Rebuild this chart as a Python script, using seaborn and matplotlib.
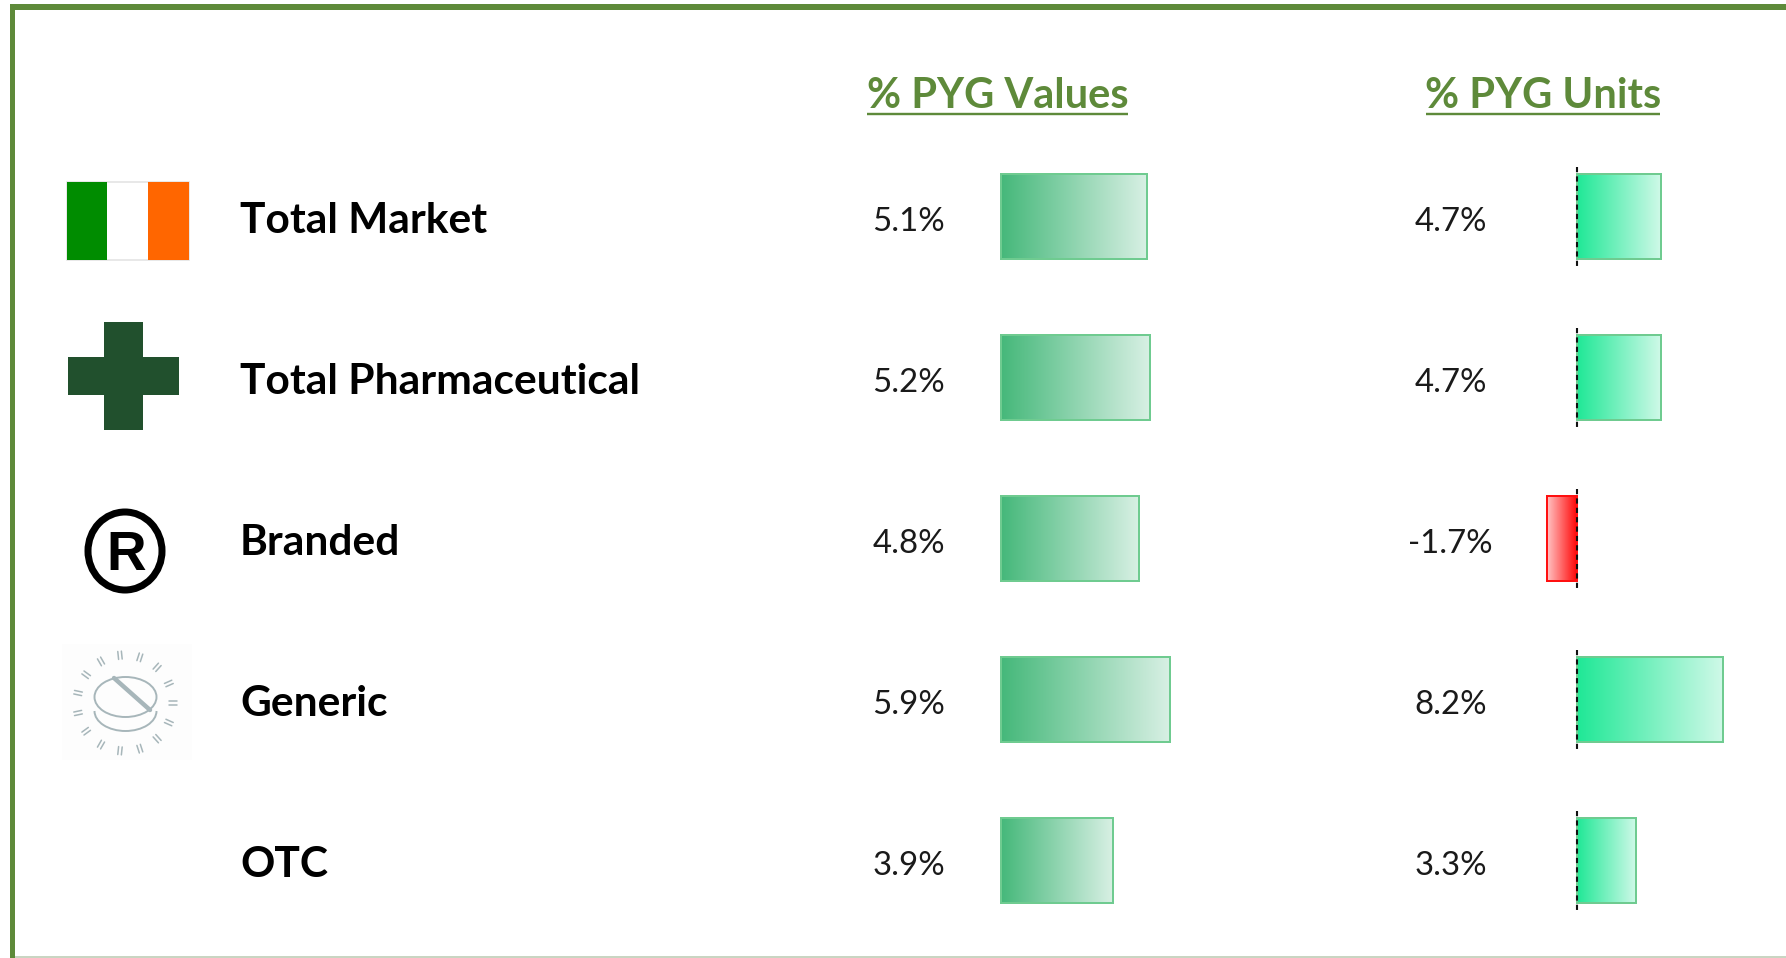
import numpy as np
import matplotlib
matplotlib.use("Agg")
import matplotlib.pyplot as plt
from matplotlib.colors import LinearSegmentedColormap
from matplotlib.patches import Rectangle, Ellipse, Arc
import pandas as pd
import seaborn as sns

categories = ["Total Market", "Total Pharmaceutical", "Branded", "Generic", "OTC"]
pyg_values = [5.1, 5.2, 4.8, 5.9, 3.9]
pyg_units = [4.7, 4.7, -1.7, 8.2, 3.3]
headers = ["% PYG Values", "% PYG Units"]

W, H = 1786, 958
ROW0, ROWSTEP = 216.5, 161.0
BAR_H = 85 / 161
sns.set_theme(style="white")
plt.rcParams["font.family"] = ["Lato", "DejaVu Sans"]
PX = 0.72
GREEN = "#5E8A3A"

fig = plt.figure(figsize=(W / 100, H / 100), dpi=100, facecolor="white")


def panel(col, zero_px, px_per_unit, cmap_pos, label_x):
    ax = fig.add_axes([0, 0, 1, 1], facecolor="none")
    df = pd.DataFrame({"cat": categories, "val": col})
    sns.barplot(data=df, x="val", y="cat", order=categories, orient="h", ax=ax,
                width=BAR_H, color="#6CCB8E", saturation=1)
    xlim = (-zero_px / px_per_unit, (W - zero_px) / px_per_unit)
    ylim = ((H - ROW0) / ROWSTEP, -ROW0 / ROWSTEP)
    cmap_neg = LinearSegmentedColormap.from_list("n", ["#FFC4C4", "#FF0000"])
    for bar, v in zip(ax.patches, col):
        x0, x1 = bar.get_x(), bar.get_x() + bar.get_width()
        y0, y1 = bar.get_y(), bar.get_y() + bar.get_height()
        ax.imshow(np.linspace(0, 1, 256)[None, :], extent=(min(x0, x1), max(x0, x1), y1, y0),
                  cmap=cmap_pos if v >= 0 else cmap_neg, aspect="auto", zorder=2,
                  interpolation="bilinear")
        bar.set_facecolor("none")
        bar.set_edgecolor("#6FCB90" if v >= 0 else "#FF1010")
        bar.set_linewidth(2.0 * PX)
        bar.set_zorder(3)
    ax.set_xlim(xlim)
    ax.set_ylim(ylim)
    ax.axis("off")
    tr = ax.get_yaxis_transform()
    for i, v in enumerate(col):
        ax.annotate(f"{v:.1f}%", xy=(label_x / W, i), xycoords=tr, xytext=(0, -14.5 * PX),
                    textcoords="offset points", ha="center", va="baseline",
                    fontsize=33 * PX, color="#1A1A1A")
    return ax


cmap_val = LinearSegmentedColormap.from_list("v", ["#45B87A", "#D8F0E4"])
cmap_unit = LinearSegmentedColormap.from_list("u", ["#1FE896", "#CFF9E8"])
ax1 = panel(pyg_values, 1001.5, 28.6, cmap_val, 908.5)
ax2 = panel(pyg_units, 1577.5, 17.8, cmap_unit, 1450.5)

# dashed zero axis of the units panel, one piece per row
for i in range(len(categories)):
    ax2.vlines(0, i - 0.31, i + 0.31, colors="#111111", linewidth=1.5,
               linestyles=(0, (2.5, 2)), zorder=5)

# overlay in pixel coordinates for frame, icons and text
ov = fig.add_axes([0, 0, 1, 1], facecolor="none")
ov.set_xlim(0, W)
ov.set_ylim(H, 0)
ov.axis("off")

# frame
ov.add_patch(Rectangle((10, 4), W, 6, color=GREEN, lw=0))
ov.add_patch(Rectangle((10, 4), 5, H, color=GREEN, lw=0))
ov.add_patch(Rectangle((15, 956), W, 2, color="#C9D5C2", lw=0))

# row labels
for i, c in enumerate(categories):
    ov.text(240, ROW0 + ROWSTEP * i + 16.5, c, fontsize=42.5 * PX, fontweight="bold",
            color="black", ha="left", va="baseline")

# headers
for t, x0, x1 in zip(headers, (867, 1426), (1128, 1660)):
    ov.text((x0 + x1) / 2, 108, t, fontsize=41.6 * PX, fontweight="bold", color=GREEN,
            ha="center", va="baseline")
    ov.plot([x0, x1], [114, 114], color=GREEN, lw=2.4 * PX, solid_capstyle="butt")

# flag icon
ov.add_patch(Rectangle((67, 182), 122, 78, facecolor="#FFFFFF", edgecolor="#E4E4E4", lw=1.2))
ov.add_patch(Rectangle((67, 182), 40, 78, color="#008C00", lw=0))
ov.add_patch(Rectangle((148, 182), 41, 78, color="#FF6600", lw=0))

# cross icon
ov.add_patch(Rectangle((104, 322), 39, 108, color="#21502D", lw=0))
ov.add_patch(Rectangle((68, 357), 111, 38, color="#21502D", lw=0))

# registered icon
ov.add_patch(Ellipse((125, 551), 74, 78, fill=False, edgecolor="black", lw=7 * PX))
ov.text(126.5, 570, "R", fontsize=55 * PX, fontweight="bold", family="Liberation Sans",
        color="black", ha="center", va="baseline")

# pill icon
PILL = "#A7B6BA"
ov.add_patch(Rectangle((62, 644), 130, 116, color="#FDFDFD", lw=0))
ov.add_patch(Ellipse((125.5, 697), 62, 40, fill=False, edgecolor=PILL, lw=1.4))
ov.add_patch(Arc((125.5, 711), 62, 40, theta1=0, theta2=180, edgecolor=PILL, lw=1.4))
ov.plot([114, 150], [678, 710], color=PILL, lw=3.2, solid_capstyle="round")
for ang in np.arange(0, 360, 24):
    ca, sa = np.cos(np.radians(ang)), np.sin(np.radians(ang))
    for off in (-1.8, 1.8):
        cx, cy = 125 - sa * off, 703 + ca * off
        ov.plot([cx + 44 * ca, cx + 52 * ca], [cy + 44 * sa, cy + 52 * sa],
                color=PILL, lw=1.1, solid_capstyle="round")

fig.savefig("out.png", dpi=100, facecolor="white")
